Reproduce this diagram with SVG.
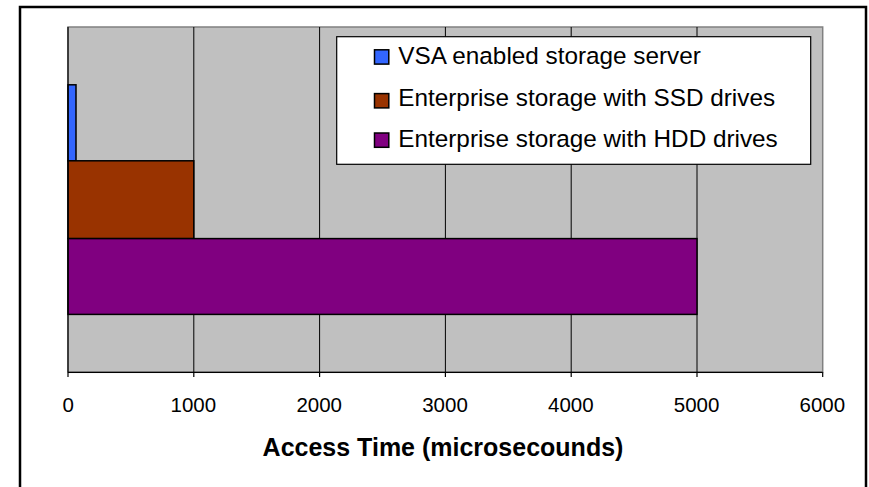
<svg xmlns="http://www.w3.org/2000/svg" width="869" height="487" viewBox="0 0 869 487">
  <style>
    .frame { fill: #FFFFFF; stroke: #000000; stroke-width: 2.5; }
    .plot { fill: #C0C0C0; stroke: #808080; stroke-width: 1.5; }
    .grid { stroke: #000000; stroke-width: 1; }
    .axis { stroke: #000000; stroke-width: 1.2; fill: none; }
    .bar { stroke: #000000; stroke-width: 1.5; }
    .tick { font-family: "Liberation Sans", Arial, sans-serif; font-size: 20.5px; fill: #000000; text-anchor: middle; }
    .title { font-family: "Liberation Sans", Arial, sans-serif; font-size: 25px; font-weight: bold; fill: #000000; text-anchor: middle; }
    .legend-box { fill: #FFFFFF; stroke: #000000; stroke-width: 1.2; }
    .legend-text { font-family: "Liberation Sans", Arial, sans-serif; font-size: 24.3px; fill: #000000; }
    .swatch { stroke: #000000; stroke-width: 1.5; }
  </style>

  <!-- chart frame (bottom edge runs off the canvas) -->
  <rect class="frame" x="20" y="7" width="846" height="492"/>

  <!-- plot area -->
  <g id="plot-area">
    <rect class="plot" x="68" y="27" width="754.7" height="345.3"/>
    <line class="grid" x1="193.8" y1="27" x2="193.8" y2="372.3"/>
    <line class="grid" x1="319.6" y1="27" x2="319.6" y2="372.3"/>
    <line class="grid" x1="445.4" y1="27" x2="445.4" y2="372.3"/>
    <line class="grid" x1="571.2" y1="27" x2="571.2" y2="372.3"/>
    <line class="grid" x1="697" y1="27" x2="697" y2="372.3"/>
  </g>

  <!-- bars -->
  <g id="bar-vsa">
    <rect class="bar" x="68" y="84.8" width="8" height="76" fill="#3366FF"/>
  </g>
  <g id="bar-ssd">
    <rect class="bar" x="68" y="160.8" width="125.8" height="77.8" fill="#993300"/>
  </g>
  <g id="bar-hdd">
    <rect class="bar" x="68" y="238.6" width="629" height="75.8" fill="#800080"/>
  </g>

  <!-- x axis with ticks -->
  <g id="x-axis">
    <line class="axis" x1="68" y1="27" x2="68" y2="372.3"/>
    <line class="axis" x1="68" y1="372.3" x2="822.7" y2="372.3"/>
    <path class="axis" d="M68 372.3V377 M193.8 372.3V377 M319.6 372.3V377 M445.4 372.3V377 M571.2 372.3V377 M697 372.3V377 M822.7 372.3V377"/>
    <text class="tick" x="68.3" y="411.7">0</text>
    <text class="tick" x="193.3" y="411.7">1000</text>
    <text class="tick" x="319.2" y="411.7">2000</text>
    <text class="tick" x="445" y="411.7">3000</text>
    <text class="tick" x="570.8" y="411.7">4000</text>
    <text class="tick" x="696.6" y="411.7">5000</text>
    <text class="tick" x="822.3" y="411.7">6000</text>
    <text class="title" x="443" y="456">Access Time (microsecounds)</text>
  </g>

  <!-- legend -->
  <g id="legend">
    <rect class="legend-box" x="336.7" y="36.7" width="474" height="127.6"/>
    <rect class="swatch" x="374.5" y="49.8" width="14.3" height="14.3" fill="#3366FF"/>
    <text class="legend-text" x="398.3" y="64">VSA enabled storage server</text>
    <rect class="swatch" x="374.5" y="93.6" width="14.3" height="14.3" fill="#993300"/>
    <text class="legend-text" x="398.3" y="106">Enterprise storage with SSD drives</text>
    <rect class="swatch" x="374.5" y="133" width="14.3" height="14.3" fill="#800080"/>
    <text class="legend-text" x="398.3" y="147.3">Enterprise storage with HDD drives</text>
  </g>
</svg>
